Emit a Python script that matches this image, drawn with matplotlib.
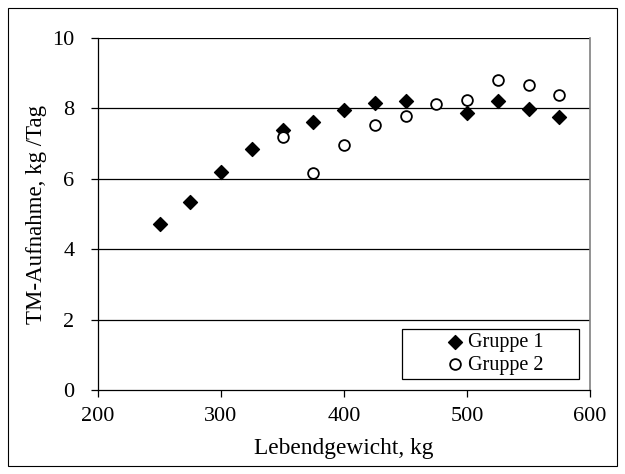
import matplotlib
matplotlib.use("Agg")
import matplotlib.pyplot as plt
from matplotlib.patches import Rectangle

plt.rcParams['font.family'] = ['Liberation Serif', 'DejaVu Serif']

x1 = [250, 275, 300, 325, 350, 375, 400, 425, 450, 500, 525, 550, 575]
g1 = [4.72, 5.35, 6.18, 6.86, 7.40, 7.60, 7.95, 8.16, 8.22, 7.87, 8.22, 7.99, 7.76]
x2 = [350, 375, 400, 425, 450, 475, 500, 525, 550, 575]
g2 = [7.19, 6.17, 6.96, 7.53, 7.78, 8.12, 8.23, 8.80, 8.67, 8.37]
xticks = [200, 300, 400, 500, 600]
yticks = [0, 2, 4, 6, 8, 10]

fig = plt.figure(figsize=(6.25, 4.74), dpi=100)
ax = fig.add_axes([98/625, 1-390/474, (590-98)/625, (390-38)/474])

fig.patches.append(Rectangle((8/625, 8/474), (617-8)/625, (466-8)/474,
                             transform=fig.transFigure, fill=False,
                             edgecolor='black', linewidth=0.8))

for yv in yticks[1:]:
    ax.axhline(yv, color='black', linewidth=0.9, zorder=1)

ax.scatter(x1, g1, marker='D', s=50, color='black', zorder=3, label='Gruppe 1')
ax.scatter(x2, g2, marker='o', s=60, facecolor='white', edgecolor='black',
           linewidths=1.3, zorder=3, label='Gruppe 2')

ax.set_xlim(200, 600)
ax.set_ylim(0, 10)
ax.set_xticks(xticks)
ax.set_yticks(yticks)
ax.tick_params(direction='out', length=5, width=0.9, labelsize=16, color='black')
ax.tick_params(axis='x', pad=7)
ax.tick_params(axis='y', pad=12)
ax.spines['top'].set_visible(False)
ax.spines['right'].set_color('#808080')
ax.spines['right'].set_linewidth(1.2)
ax.spines['left'].set_linewidth(0.9)
ax.spines['bottom'].set_linewidth(0.9)

ax.set_xlabel('Lebendgewicht, kg', fontsize=16.8, labelpad=9)
ax.set_ylabel('TM-Aufnahme, kg /Tag', fontsize=16.5, labelpad=4)

# legend frame drawn as fixed box
ax.add_patch(Rectangle((0.618, 0.0313), 0.3598, 0.142, transform=ax.transAxes,
                       fill=True, facecolor='white', edgecolor='black',
                       linewidth=0.9, zorder=4))
leg = ax.legend(loc='center', bbox_to_anchor=(0.800, 0.1023), fontsize=14.5,
                frameon=False, handletextpad=-0.1,
                borderpad=0.0, labelspacing=0.15, handlelength=1.5)
leg.set_zorder(5)

fig.savefig('out.png', dpi=100)
